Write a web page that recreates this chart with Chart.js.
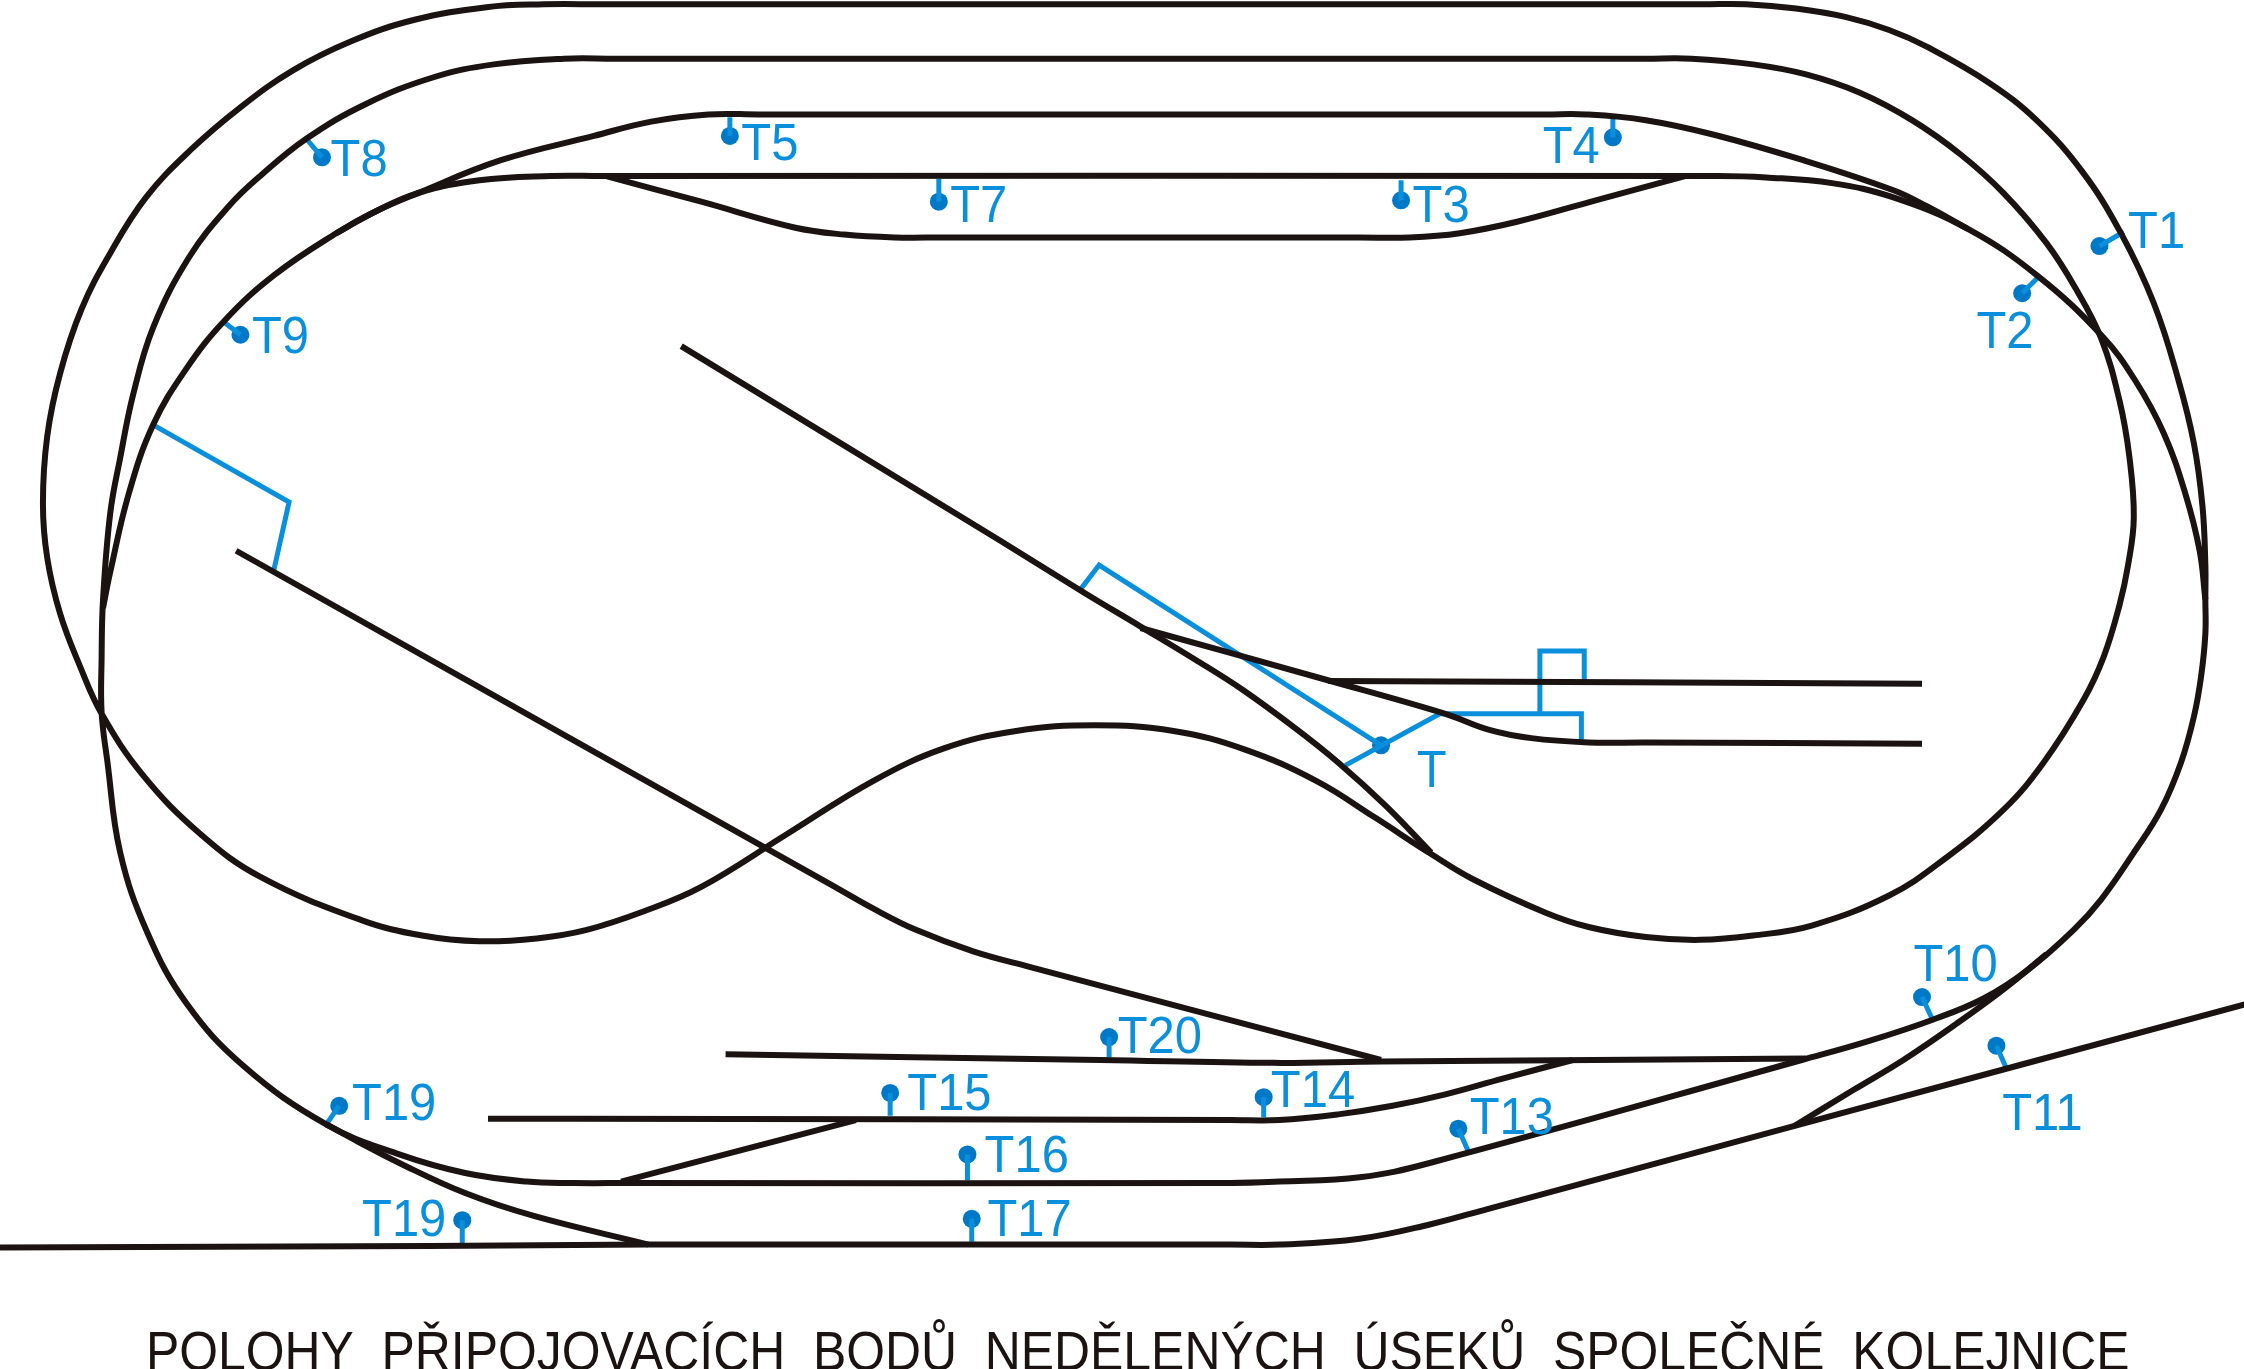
<!DOCTYPE html>
<html lang="cs">
<head>
<meta charset="utf-8">
<title>Polohy připojovacích bodů</title>
<style>html,body{margin:0;padding:0;background:#fff}canvas{display:block}</style>
<script src="https://cdn.jsdelivr.net/npm/chart.js@4"></script>
</head>
<body>
<canvas id="c" width="2244" height="1369"></canvas>
<script>
// Track centre lines ([x, y] in picture units)
const mainLoop = [[440,827],[400,827],[368,826],[325,820],[279,807],[228,786],[170,745],[130,701],[103,652],[84,596],[75,532],[71,498],[71,460],[72,419],[77,359],[84,320],[93,276],[107,229],[132,180],[160,144],[183,122],[214,97],[255,73],[303,54],[345,45],[394,41],[430,41],[1150,41],[1182,41],[1225,45],[1262,52],[1300,65],[1336,84],[1370,108],[1400,135],[1430,170],[1450,201],[1468,236],[1481,280],[1488,320],[1491,362],[1487,395],[1481,423],[1470,459],[1456,489],[1428,533],[1400,566],[1358,601],[1320,626],[1266,647],[1225,654],[1188,657],[1150,655],[1110,648],[1080,638],[1030,615],[1000,597],[960,571],[920,546],[870,524],[820,511],[765,507],[710,511],[660,523],[610,546],[550,583],[490,620],[450,637],[410,650],[375,656],[335,658],[295,654],[252,643],[182,613],[140,583],[100,542],[71,499],[56,466],[42,429],[33,390],[30,352],[33,305],[42,261],[57,216],[77,177],[102,138],[133,105],[168,75],[205,49],[245,29],[289,14],[340,5],[380,3],[420,3],[1190,3],[1220,3],[1255,6],[1290,12],[1320,21],[1347,33],[1390,58],[1423,84],[1455,120],[1482,163],[1505,212],[1522,265],[1533,310],[1539,354],[1541,395],[1541,419],[1541,443],[1538,473],[1533,501],[1524,533],[1510,566],[1491,596],[1468,629],[1449,650],[1417,678],[1386,698],[1350,713],[1305,728],[1259,741],[999,813],[950,823],[894,826],[860,827],[440,827]];
const innerLoop = [[72,425],[77,400],[90,345],[107,297],[130,258],[157,224],[192,192],[235,163],[262,148],[292,135],[335,126],[385,123],[420,123],[1200,123],[1234,124],[1280,128],[1323,138],[1375,160],[1424,193],[1469,235],[1492,266],[1512,303],[1527,345],[1537,385],[1541,419]];
const upperLoop = [[235,163],[262,148],[292,135],[350,112],[415,95],[455,85],[495,80],[530,80],[1080,80],[1108,80],[1150,84],[1197,94],[1260,112],[1323,133],[1346,144],[1375,160]];
const upperSiding = [[423,123],[490,141],[555,159],[590,164],[625,166],[660,166],[950,166],[985,166],[1020,163],[1060,155],[1115,140],[1178,123]];
const bottomLine = [[0,872],[300,871],[453,870],[500,870],[860,870],[894,870],[950,866],[999,856],[1040,845],[1254,787],[1569,702]];
const lowerBranchLeft = [[228,786],[250,798],[279,813],[325,834],[373,850],[453,870]];
const lowerBranchRight = [[1254,787],[1295,762],[1330,741],[1368,715],[1402,690],[1430,667]];
const siding14 = [[341,782],[400,782],[860,783],[894,783],[935,779],[973,773],[1010,765],[1050,754],[1099,741]];
const sidingLink = [[434,826],[598,783]];
const siding20 = [[507,737],[769,741],[890,743],[965,742],[1262,740]];
const longDiagonal = [[165,385],[400,517],[580,618],[610,635],[640,650],[680,665],[720,676],[965,741]];
const upperDiagonal = [[476,242],[699,378],[757,414],[797,438],[835,461],[868,482],[905,509],[935,533],[968,563],[1000,596]];
const yardBranch = [[797,439],[926,475],[1010,499],[1040,510],[1070,516],[1110,519],[1150,519],[1343,520]];
const yardUpper = [[928,476],[1343,478]];
const tracks = [mainLoop, innerLoop, upperLoop, upperSiding, bottomLine, lowerBranchLeft, lowerBranchRight, siding14, sidingLink, siding20, longDiagonal, upperDiagonal, yardBranch, yardUpper];

// Blue feeder wires
const wireLeft = [[107,297],[202,351],[191,400]];
const wireDiagonal = [[755,412],[768,395],[965,521]];
const wireYard = [[940,535],[1006,499],[1105,499],[1105,517]];
const wireYardUpper = [[1076,499],[1076,455],[1107,455],[1107,476]];
const wires = [wireLeft, wireDiagonal, wireYard, wireYardUpper];

// Connection points
const pointNames = ["T1","T2","T3","T4","T5","T7","T8","T9","T10","T11","T13","T14","T15","T16","T17","T19","T19","T20"];
const pointAt = [[1467,172],[1413,205],[979,140],[1127,96],[510,95],[656,141],[225,110],[168,234],[1343,697],[1395,731],[1019,789],[883,767],[622,764],[676,807],[679,852],[237,773],[323,853],[775,725]];
const stemEnd = [[1484,162],[1425,193],[979,126],[1127,82],[510,82],[656,125],[214,97],[155,224],[1350,712],[1402,747],[1026,805],[883,781],[622,780],[676,825],[679,868],[228,786],[323,870],[775,739]];
const labelAt = [[1487,163],[1381,233],[987,145],[1078,104],[518,102],[664,145],[231,113],[176,237],[1337,676],[1399,780],[1027,783],[888,764],[634,766],[688,809],[690,854],[246,773],[253,854],[781,726]];
const extraLabel = "T";
const extraLabelAt = [990,540];
const junctionDot = [965,521];
const caption = "POLOHY  PŘIPOJOVACÍCH  BODŮ  NEDĚLENÝCH  ÚSEKŮ  SPOLEČNÉ  KOLEJNICE";
const captionAt = [102,947];
const captionWidth = 1386;

const toXY = p => ({x:p[0], y:p[1]});
const BLACK = "#1a1311", BLUE = "#0a8fdc", DOT = "#0078c8";
const datasets = [];
tracks.forEach(t => datasets.push({data:t.map(toXY), showLine:true, borderColor:BLACK, borderWidth:6, tension:0.4, pointRadius:0, borderCapStyle:"butt", borderJoinStyle:"round"}));
wires.forEach(t => datasets.push({data:t.map(toXY), showLine:true, borderColor:BLUE, borderWidth:5, tension:0, pointRadius:0, borderCapStyle:"butt", borderJoinStyle:"miter"}));
pointAt.forEach((p,i) => datasets.push({data:[toXY(p), toXY(stemEnd[i])], showLine:true, borderColor:BLUE, borderWidth:5, tension:0, pointRadius:0, borderCapStyle:"butt"}));
datasets.push({data:pointAt.concat([junctionDot]).map(toXY), showLine:false, pointRadius:9, pointBackgroundColor:DOT, pointBorderWidth:0});

const textPlugin = {
  id:"texts",
  afterDatasetsDraw(chart){
    const {ctx, scales:{x,y}} = chart;
    const narrow = (t,px,py) => ctx.fillText(t, px, py, ctx.measureText(t).width*0.94);
    ctx.save();
    ctx.textBaseline = "middle";
    ctx.textAlign = "left";
    ctx.fillStyle = BLUE;
    ctx.font = '52px "Liberation Sans"';
    pointNames.forEach((n,i) => narrow(n, x.getPixelForValue(labelAt[i][0]), y.getPixelForValue(labelAt[i][1])));
    narrow(extraLabel, x.getPixelForValue(extraLabelAt[0]), y.getPixelForValue(extraLabelAt[1]));
    ctx.fillStyle = BLACK;
    ctx.font = '56px "Liberation Sans"';
    ctx.fillText(caption, x.getPixelForValue(captionAt[0]), y.getPixelForValue(captionAt[1]), x.getPixelForValue(captionAt[0]+captionWidth)-x.getPixelForValue(captionAt[0]));
    ctx.restore();
  }
};

new Chart(document.getElementById("c"), {
  type:"scatter",
  data:{datasets},
  plugins:[textPlugin],
  options:{
    responsive:false, animation:false, devicePixelRatio:1,
    layout:{padding:0, autoPadding:false},
    plugins:{legend:{display:false}, tooltip:{enabled:false}, title:{display:false}},
    scales:{
      x:{type:"linear", display:false, min:0, max:1568},
      y:{type:"linear", display:false, min:0, max:957, reverse:true}
    }
  }
});
</script>
</body>
</html>
